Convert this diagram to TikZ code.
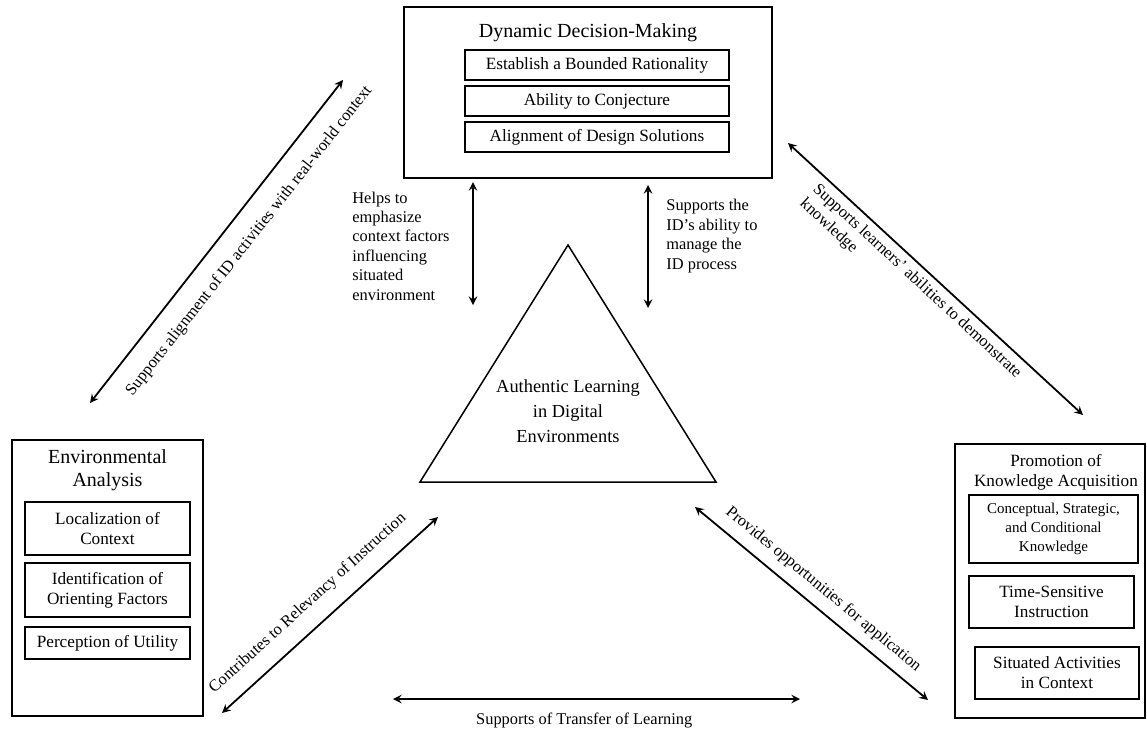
\documentclass[tikz,border=0pt]{standalone}
\usepackage{fontspec}
\setmainfont{Liberation Serif}
\usetikzlibrary{positioning}

\newcommand{\ttlfont}{\fontsize{10}{11.5}\selectfont}
\newcommand{\smallttlfont}{\fontsize{8.6}{10}\selectfont}
\newcommand{\sbfont}{\fontsize{8.6}{10}\selectfont}
\newcommand{\smallsbfont}{\fontsize{7.5}{9.5}\selectfont}
\newcommand{\lblfont}{\fontsize{8.2}{9.7}\selectfont}
\newcommand{\midfont}{\fontsize{9.2}{12.5}\selectfont}

\begin{document}
\begin{tikzpicture}[
    x=0.5pt, y=-0.5pt,
    node distance=3pt,
 outerbox/.style = {
        draw, rectangle, line width=0.8pt, inner sep=0pt},
   subbox/.style = {
        draw, rectangle, align=center, line width=1.2pt,
        font=\sbfont, inner sep=1pt, outer sep=0pt},
 boxtitle/.style = {
        align=center, font=\ttlfont},
arrowlabel/.style = {
        font=\lblfont, align=left, inner sep=2pt},
    arrow/.style = {line width=0.9pt,stealth-stealth}
                    ]
\useasboundingbox (0,0) rectangle (1147,730);
% the box at the top
\node (ddm)  [outerbox, minimum width=184pt, minimum height=85.5pt]
                at (588,92.5) {};
\node (ddmt) [boxtitle] at (588,33) {Dynamic Decision-Making};
\node (ddm1) [subbox, minimum width=132pt, minimum height=15pt]
                at (597,65) {Establish a Bounded Rationality};
\node (ddm2) [subbox, minimum width=132pt, minimum height=15pt,
                below=of ddm1] {Ability to Conjecture};
\node (ddm3) [subbox, minimum width=132pt, minimum height=15pt,
                below=of ddm2] {Alignment of Design Solutions};
% the box on the left
\node (ea)   [outerbox, minimum width=95.5pt, minimum height=138pt]
                at (107.5,578) {};
\node (eat)  [boxtitle] at (107.5,470) {Environmental\\Analysis};
\node (ea1)  [subbox, minimum width=82.5pt, minimum height=26.5pt]
                at (107.5,528.5) {Localization of\\Context};
\node (ea2)  [subbox, minimum width=82.5pt, minimum height=27pt,
                below=4pt of ea1] {Identification of\\Orienting Factors};
\node (ea3)  [subbox, minimum width=82.5pt, minimum height=16pt,
                below=5pt of ea2] {Perception of Utility};
% the box on the right
\node (pka)  [outerbox, minimum width=95pt, minimum height=137pt]
                at (1050,581) {};
\node (pkat) [boxtitle, font=\smallttlfont] at (1056,472)
                {Promotion of\\Knowledge Acquisition};
\node (pka1) [subbox, font=\smallsbfont, minimum width=84.5pt,
                minimum height=34pt] at (1053.5,529)
                {Conceptual, Strategic,\\and Conditional\\Knowledge};
\node (pka2) [subbox, minimum width=82.5pt, minimum height=26pt,
                below=6.5pt of pka1, xshift=-1pt] {Time-Sensitive\\Instruction};
\node (pka3) [subbox, minimum width=82pt, minimum height=26pt,
                below=9.5pt of pka2, xshift=2.75pt] {Situated Activities\\in Context};
% the triangle in the middle
\coordinate (ta) at (568,245);
\coordinate (tr) at (716,482);
\coordinate (tl) at (420,482);
\draw[line width=0.75pt] (ta) -- (tr) -- (tl) -- cycle;
\node (ald) [align=center, font=\midfont] at (568,411)
                {Authentic Learning\\in Digital\\Environments};
% the two arrows under the top box
\coordinate (v1a) at (473,182);
\coordinate (v1b) at (473,305);
\draw[arrow] (v1a) -- (v1b);
\node (v1l) [arrowlabel, anchor=west] at (348,246)
                {Helps to\\emphasize\\context factors\\influencing\\situated\\environment};
\coordinate (v2a) at (648,185);
\coordinate (v2b) at (648,308);
\draw[arrow] (v2a) -- (v2b);
\node (v2l) [arrowlabel, anchor=west] at (662,236)
                {Supports the\\ID's ability to\\manage the\\ID process};
% the diagonal arrows
\coordinate (d1a) at (90,403);
\coordinate (d1b) at (343,80);
\draw[arrow] (d1a) -- node[arrowlabel, sloped, below, pos=0.55, inner ysep=8.5pt]
                {Supports alignment of ID activities with real-world context} (d1b);
\coordinate (d2a) at (788,143);
\coordinate (d2b) at (1083,415);
\draw[arrow] (d2a) -- node[arrowlabel, sloped, below, pos=0.47, inner ysep=3pt]
                {Supports learners' abilities to demonstrate\\knowledge} (d2b);
\coordinate (d3a) at (222,713);
\coordinate (d3b) at (438,517);
\draw[arrow] (d3a) -- node[arrowlabel, sloped, above, pos=0.47, inner ysep=7.5pt]
                {Contributes to Relevancy of Instruction} (d3b);
\coordinate (d4a) at (695,507);
\coordinate (d4b) at (928,700);
\draw[arrow] (d4a) -- node[arrowlabel, sloped, above, pos=0.5, inner ysep=5pt]
                {Provides opportunities for application} (d4b);
% the arrow at the bottom
\coordinate (h1a) at (393,699);
\coordinate (h1b) at (800,699);
\draw[arrow] (h1a) -- node[arrowlabel, below, pos=0.47, inner ysep=6.5pt]
                {Supports of Transfer of Learning} (h1b);
\end{tikzpicture}
\end{document}
